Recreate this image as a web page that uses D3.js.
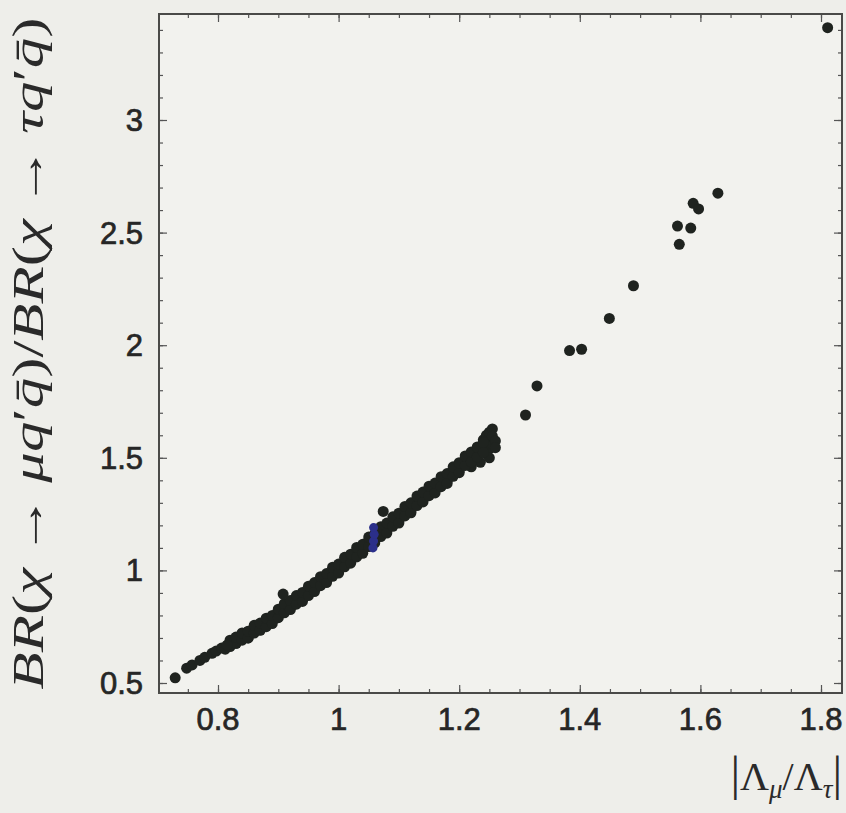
<!DOCTYPE html>
<html>
<head>
<meta charset="utf-8">
<script src="https://cdn.jsdelivr.net/npm/d3@7"></script>
<style>
  body { margin: 0; background: #eeeeea; }
  #chart { width: 846px; height: 813px; }
</style>
</head>
<body>
<div id="chart"></div>
<script>

const xTicks = [0.8, 1, 1.2, 1.4, 1.6, 1.8];
const yTicks = [0.5, 1, 1.5, 2, 2.5, 3];

// sparse points along the lower tail and the upper branch
const outerPoints = [
    [0.729, 0.523], [0.748, 0.566], [0.757, 0.580], [0.770, 0.600], [0.778, 0.614],
    [0.790, 0.632], [0.797, 0.642], [0.806, 0.655], [0.812, 0.650], [0.815, 0.668],
    [0.908, 0.895], [1.074, 1.262],
    [1.310, 1.690], [1.329, 1.819], [1.383, 1.976], [1.403, 1.982], [1.449, 2.119],
    [1.489, 2.264], [1.565, 2.448], [1.562, 2.529], [1.584, 2.520], [1.588, 2.630],
    [1.597, 2.605], [1.629, 2.675], [1.811, 3.410]
];

// dense band between 0.82 and 1.26
const bandPoints = [
    [0.82, 0.668], [0.82, 0.684], [0.83, 0.690], [0.83, 0.676], [0.83, 0.702],
    [0.84, 0.700], [0.84, 0.716], [0.85, 0.712], [0.85, 0.728], [0.85, 0.700],
    [0.86, 0.732], [0.86, 0.748], [0.87, 0.748], [0.87, 0.762], [0.87, 0.736],
    [0.88, 0.770], [0.88, 0.782], [0.88, 0.756], [0.89, 0.790], [0.89, 0.774],
    [0.90, 0.808], [0.90, 0.822], [0.90, 0.796], [0.91, 0.826], [0.91, 0.840],
    [0.92, 0.846], [0.92, 0.832], [0.92, 0.860], [0.93, 0.862], [0.93, 0.876],
    [0.94, 0.880], [0.94, 0.894], [0.94, 0.868], [0.95, 0.902], [0.95, 0.916],
    [0.96, 0.926], [0.96, 0.940], [0.96, 0.912], [0.97, 0.946], [0.97, 0.958],
    [0.98, 0.966], [0.98, 0.980], [0.98, 0.952], [0.99, 0.988], [0.99, 1.000],
    [1.00, 1.008], [1.00, 1.022], [1.00, 0.994], [1.01, 1.030], [1.01, 1.044],
    [1.02, 1.052], [1.02, 1.066], [1.02, 1.040], [1.03, 1.074], [1.03, 1.088],
    [1.04, 1.096], [1.04, 1.110], [1.04, 1.084], [1.05, 1.120], [1.05, 1.134],
    [1.06, 1.142], [1.06, 1.156], [1.06, 1.130], [1.07, 1.166], [1.07, 1.178],
    [1.08, 1.188], [1.08, 1.202], [1.08, 1.176], [1.09, 1.210], [1.09, 1.224],
    [1.10, 1.232], [1.10, 1.248], [1.10, 1.220], [1.11, 1.256], [1.11, 1.270],
    [1.12, 1.278], [1.12, 1.294], [1.12, 1.266], [1.13, 1.302], [1.13, 1.316],
    [1.14, 1.326], [1.14, 1.340], [1.14, 1.314], [1.15, 1.346], [1.15, 1.360],
    [1.16, 1.366], [1.16, 1.380], [1.16, 1.354], [1.17, 1.388], [1.17, 1.400],
    [1.18, 1.408], [1.18, 1.422], [1.18, 1.396], [1.19, 1.432], [1.19, 1.446],
    [1.20, 1.456], [1.20, 1.470], [1.20, 1.444], [1.21, 1.480], [1.21, 1.494],
    [1.22, 1.504], [1.22, 1.520], [1.22, 1.490], [1.22, 1.460], [1.23, 1.526],
    [1.23, 1.540], [1.23, 1.512], [1.235, 1.480], [1.24, 1.546], [1.24, 1.562],
    [1.24, 1.530], [1.24, 1.580], [1.245, 1.600], [1.245, 1.520], [1.25, 1.570],
    [1.25, 1.590], [1.25, 1.540], [1.25, 1.614], [1.25, 1.500], [1.255, 1.560],
    [1.255, 1.628], [1.255, 1.596], [1.26, 1.575], [1.26, 1.545],
    // upper and lower edges of the band
    [0.82, 0.662], [0.82, 0.690], [0.83, 0.676], [0.83, 0.704], [0.84, 0.690],
    [0.84, 0.722], [0.85, 0.700], [0.85, 0.730], [0.86, 0.722], [0.86, 0.756],
    [0.87, 0.734], [0.87, 0.766], [0.88, 0.750], [0.88, 0.788], [0.89, 0.764],
    [0.89, 0.800], [0.90, 0.790], [0.90, 0.828], [0.91, 0.812], [0.91, 0.852],
    [0.92, 0.826], [0.92, 0.866], [0.93, 0.850], [0.93, 0.888], [0.94, 0.862],
    [0.94, 0.902], [0.95, 0.888], [0.95, 0.930], [0.96, 0.906], [0.96, 0.946],
    [0.97, 0.932], [0.97, 0.972], [0.98, 0.946], [0.98, 0.986], [0.99, 0.974],
    [0.99, 1.014], [1.00, 0.988], [1.00, 1.028], [1.01, 1.016], [1.01, 1.058],
    [1.02, 1.032], [1.02, 1.072], [1.03, 1.060], [1.03, 1.102], [1.04, 1.076],
    [1.04, 1.116], [1.05, 1.106], [1.05, 1.148], [1.06, 1.122], [1.06, 1.162],
    [1.07, 1.150], [1.07, 1.194], [1.08, 1.166], [1.08, 1.210], [1.09, 1.196],
    [1.09, 1.238], [1.10, 1.210], [1.10, 1.254], [1.11, 1.242], [1.11, 1.284],
    [1.12, 1.256], [1.12, 1.300], [1.13, 1.288], [1.13, 1.330], [1.14, 1.304],
    [1.14, 1.348], [1.15, 1.332], [1.15, 1.374], [1.16, 1.344], [1.16, 1.388],
    [1.17, 1.372], [1.17, 1.416], [1.18, 1.386], [1.18, 1.430], [1.19, 1.418],
    [1.19, 1.460], [1.20, 1.434], [1.20, 1.478], [1.21, 1.466], [1.21, 1.508],
    [1.22, 1.482], [1.22, 1.526], [1.23, 1.504], [1.23, 1.548], [1.24, 1.524],
    [1.24, 1.568]
];

const bluePoints = [
    [1.057, 1.100], [1.058, 1.130], [1.059, 1.160], [1.058, 1.190]
];

const margin = {top: 14, right: 4, bottom: 120, left: 159},
    width = 846 - margin.left - margin.right,
    height = 813 - margin.top - margin.bottom;

const svg = d3.select("#chart")
    .append("svg")
    .attr("width", 846)
    .attr("height", 813)
    .append("g")
    .attr("transform", `translate(${margin.left},${margin.top})`);

const x = d3.scaleLinear()
    .domain([0.8, 1.8])
    .range([59, 662]);

const y = d3.scaleLinear()
    .domain([0.5, 3])
    .range([669, 106]);

svg.append("rect")
    .attr("width", width)
    .attr("height", height)
    .attr("fill", "#f2f2ee");

// frame ticks on all four sides, pointing inward
const xMinor = d3.range(0.75, 1.85, 0.05).filter(v => x(v) > 0 && x(v) < width);
const yMinor = d3.range(0.5, 3.5, 0.1).filter(v => y(v) > 0 && y(v) < height);

function frameTicks(axis, values, size, tx, ty) {
    const g = svg.append("g")
        .attr("transform", `translate(${tx},${ty})`)
        .call(axis.tickValues(values).tickSize(size).tickFormat(""));
    g.select(".domain").remove();
    g.selectAll("line").attr("stroke", "#555").attr("stroke-width", 1.2);
}

frameTicks(d3.axisBottom(x), xMinor, -4, 0, height);
frameTicks(d3.axisBottom(x), xTicks, -8, 0, height);
frameTicks(d3.axisTop(x), xMinor, -4, 0, 0);
frameTicks(d3.axisTop(x), xTicks, -8, 0, 0);
frameTicks(d3.axisLeft(y), yMinor, -4, 0, 0);
frameTicks(d3.axisLeft(y), yTicks, -8, 0, 0);
frameTicks(d3.axisRight(y), yMinor, -4, width, 0);
frameTicks(d3.axisRight(y), yTicks, -8, width, 0);

svg.append("rect")
    .attr("width", width)
    .attr("height", height)
    .attr("fill", "none")
    .attr("stroke", "#4a4a48")
    .attr("stroke-width", 2);

// tick labels
svg.selectAll(".xlab")
    .data(xTicks)
    .enter().append("text")
    .attr("x", d => x(d))
    .attr("y", height + 37)
    .attr("text-anchor", "middle")
    .style("font-family", "Liberation Sans, Arial, sans-serif")
    .style("font-size", "31px")
    .style("fill", "#262626")
    .style("stroke", "#262626")
    .style("stroke-width", 0.7)
    .text(d => d);

svg.selectAll(".ylab")
    .data(yTicks)
    .enter().append("text")
    .attr("x", -16)
    .attr("y", d => y(d) + 11)
    .attr("text-anchor", "end")
    .style("font-family", "Liberation Sans, Arial, sans-serif")
    .style("font-size", "31px")
    .style("fill", "#262626")
    .style("stroke", "#262626")
    .style("stroke-width", 0.7)
    .text(d => d);

// points
svg.append("g")
    .selectAll("circle")
    .data(bandPoints.concat(outerPoints))
    .enter().append("circle")
    .attr("cx", d => x(d[0]))
    .attr("cy", d => y(d[1]))
    .attr("r", 5.5)
    .attr("fill", "#1f231f");

svg.append("g")
    .selectAll("circle")
    .data(bluePoints)
    .enter().append("circle")
    .attr("cx", d => x(d[0]))
    .attr("cy", d => y(d[1]))
    .attr("r", 4.5)
    .attr("fill", "#2b2f8a");

// axis titles
const serif = "Liberation Serif, Times New Roman, serif";

const ylab = svg.append("text")
    .attr("transform", `translate(${-116},${height / 2}) rotate(-90)`)
    .attr("text-anchor", "middle")
    .attr("textLength", 672)
    .attr("lengthAdjust", "spacingAndGlyphs")
    .style("font-family", serif)
    .style("font-size", "44px")
    .style("fill", "#2a2a2a");

const ylabParts = [
    ["BR", "italic"], ["(", "normal"], ["χ", "italic"], ["\u2009→\u2009", "normal"],
    ["μq", "italic"], ["′", "normal"], ["q̄", "italic"], [")/", "normal"],
    ["BR", "italic"], ["(", "normal"], ["χ", "italic"], ["\u2009→\u2009", "normal"],
    ["τq", "italic"], ["′", "normal"], ["q̄", "italic"], [")", "normal"]
];
ylabParts.forEach(p => {
    ylab.append("tspan").style("font-style", p[1]).text(p[0]);
});

const xlab = svg.append("text")
    .attr("x", width)
    .attr("y", height + 97)
    .attr("text-anchor", "end")
    .style("font-family", serif)
    .style("font-size", "40px")
    .style("fill", "#2a2a2a");

xlab.append("tspan").style("font-size", "48px").text("|");
xlab.append("tspan").text("Λ");
xlab.append("tspan").style("font-style", "italic").style("font-size", "27px").attr("dy", 8).text("μ");
xlab.append("tspan").attr("dy", -8).text("/Λ");
xlab.append("tspan").style("font-style", "italic").style("font-size", "27px").attr("dy", 8).text("τ");
xlab.append("tspan").attr("dy", -8).style("font-size", "48px").text("|");

svg.node();
</script>
</body>
</html>
